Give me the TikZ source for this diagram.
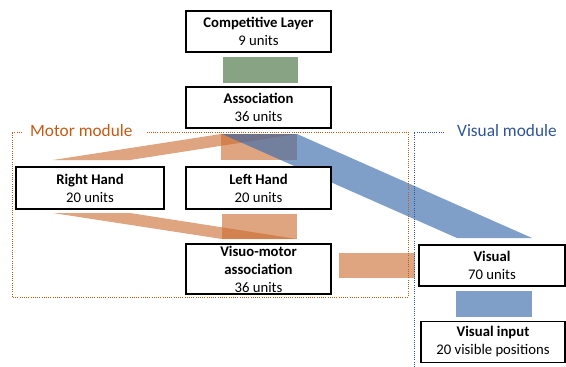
\documentclass[tikz,border=0pt]{standalone}
\usepackage{fontspec}
\setmainfont{Carlito}
\definecolor{orng}{RGB}{201,105,45}
\definecolor{blu}{RGB}{58,108,172}
\definecolor{grn}{RGB}{136,163,132}
\definecolor{motorc}{RGB}{197,90,17}
\definecolor{visc}{RGB}{47,85,151}
\begin{document}
\begin{tikzpicture}[x=1pt,y=-1pt,
  box/.style={draw=black,line width=1.8pt,fill=white,align=center,inner sep=0pt,font=\fontsize{14.7}{18}\selectfont},
  ofill/.style={fill=orng,fill opacity=0.6},
  bfill/.style={fill=blu,fill opacity=0.65},
  modlbl/.style={anchor=west,inner sep=0pt,font=\fontsize{17.3}{20}\selectfont},
  dotline/.style={line width=1pt,dash pattern=on 1pt off 1.2pt}]
\useasboundingbox (0,0) rectangle (566,367);
% connector bands
\fill[grn] (223,57) rectangle (298,83);
\fill[ofill] (221,134) -- (297,134) -- (130,160) -- (53,160) -- cycle;
\fill[ofill] (221,134) rectangle (297,160);
\fill[ofill] (53,213) -- (130,213) -- (297,239) -- (222,239) -- cycle;
\fill[ofill] (222,214) rectangle (297,239);
\fill[ofill] (339,253) rectangle (415,278);
\fill[bfill] (222,134) -- (297,134) -- (532,238) -- (457,238) -- cycle;
\fill[bfill] (456,291) rectangle (532,317);
% module frames
\draw[motorc,dotline] (22,132) -- (12,132) -- (12,297) -- (408,297) -- (408,132) -- (147,132);
\node[modlbl,text=motorc] (motorlbl) at (30,131) {Motor module};
\draw[visc,dotline] (444,132) -- (414,132) -- (414,367);
\node[modlbl,text=visc] (vislbl) at (457,131) {Visual module};
% boxes
\node[box,minimum width=145pt,minimum height=41pt] (comp) at (258.5,31.5) {\textbf{Competitive Layer}\\9 units};
\node[box,minimum width=145pt,minimum height=41pt] (assoc) at (258.5,107.5) {\textbf{Association}\\36 units};
\node[box,minimum width=148pt,minimum height=42pt] (right) at (90,188) {\textbf{Right Hand}\\20 units};
\node[box,minimum width=145pt,minimum height=42pt] (left) at (258.5,188) {\textbf{Left Hand}\\20 units};
\node[box,minimum width=145pt,minimum height=50pt] (vm) at (258.5,269) {\textbf{Visuo-motor}\\\textbf{association}\\36 units};
\node[box,minimum width=146pt,minimum height=41pt] (visual) at (492,265.5) {\textbf{Visual}\\70 units};
\node[box,minimum width=144pt,minimum height=41pt] (visin) at (493,342) {\textbf{Visual input}\\20 visible positions};
\end{tikzpicture}
\end{document}
